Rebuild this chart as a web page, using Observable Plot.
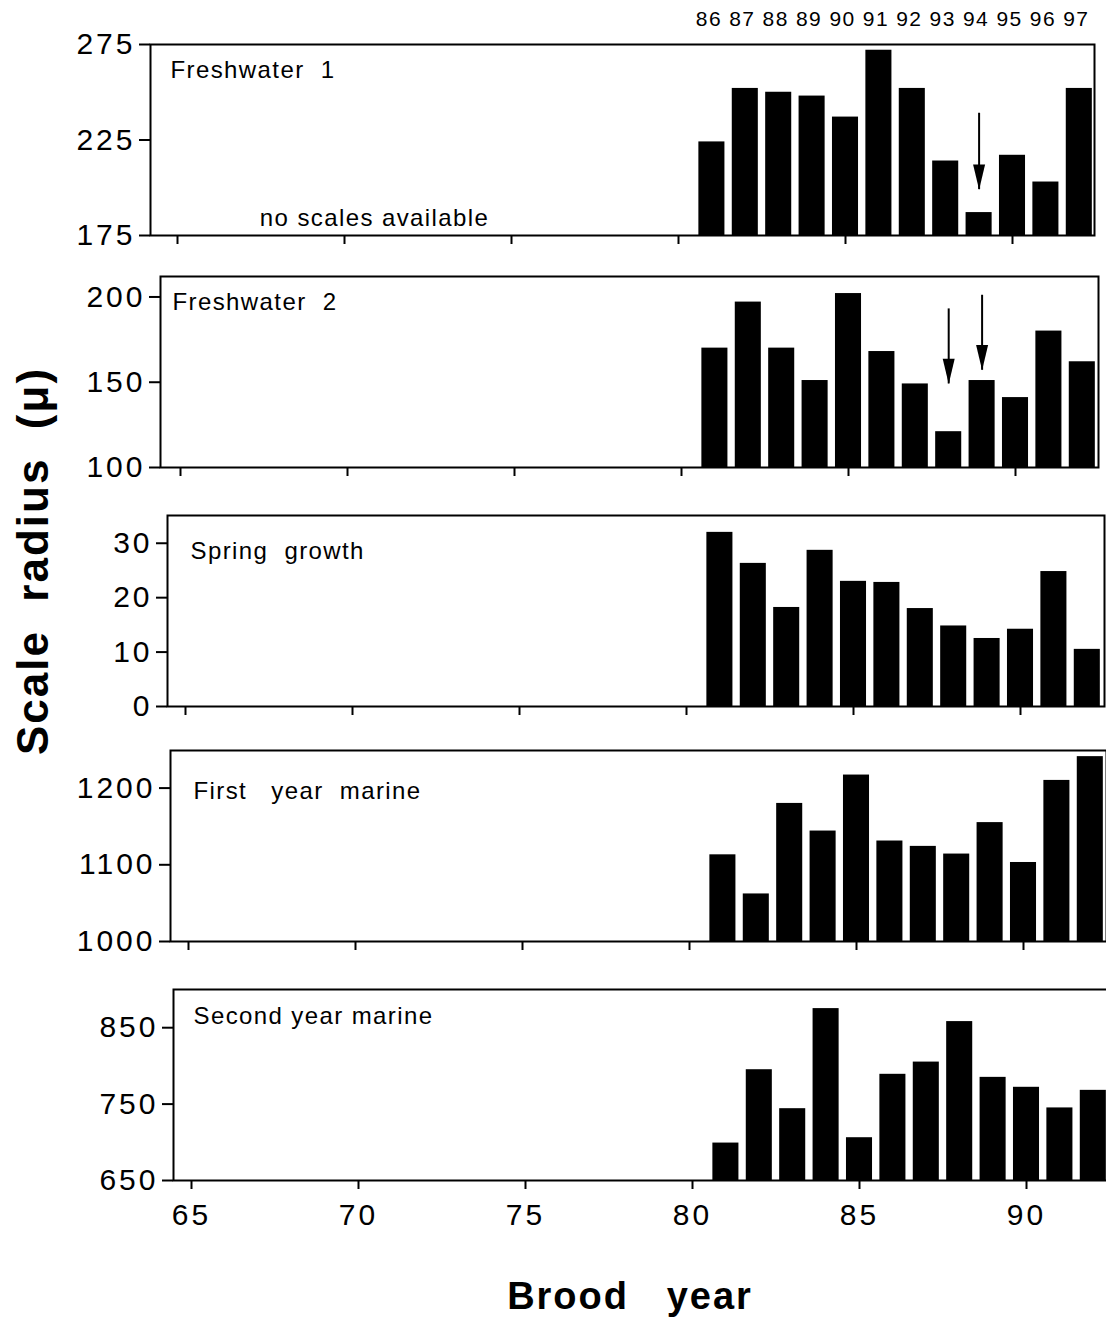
<!DOCTYPE html>
<html>
<head>
<meta charset="utf-8">
<script src="https://cdn.jsdelivr.net/npm/d3@7"></script>
<script src="https://cdn.jsdelivr.net/npm/@observablehq/plot@0.6"></script>
<style>
  body { margin: 0; background: #fff; }
  #chart { position: relative; width: 1106px; height: 1319px; overflow: hidden; font-family: "Liberation Sans", Arial, sans-serif; }
  #chart svg { position: absolute; left: 0; overflow: visible; }
  g[aria-label="y-axis tick label"], g[aria-label="x-axis tick label"] { letter-spacing: 3px; }
  g[aria-label="text"] { letter-spacing: 1.4px; }
  .ylab { position: absolute; font-weight: bold; font-size: 44px; letter-spacing: 2px; white-space: pre; width: 500px; text-align: center; line-height: 50px; transform: rotate(-90deg); transform-origin: 250px 25px; }
  .xlab { position: absolute; font-weight: bold; font-size: 38px; letter-spacing: 2px; white-space: pre; width: 400px; text-align: center; line-height: 44px; }
</style>
</head>
<body>
<div id="chart"></div>
<script>
// ---- data ----
const years = [81, 82, 83, 84, 85, 86, 87, 88, 89, 90, 91, 92];
const returnYears = ["86", "87", "88", "89", "90", "91", "92", "93", "94", "95", "96", "97"];
const xTicks = [65, 70, 75, 80, 85, 90];

const freshwater1 = [224, 252, 250, 248, 237, 272, 252, 214, 187, 217, 203, 252];
const freshwater2 = [170, 197, 170, 151, 202, 168, 149, 121, 151, 141, 180, 162];
const springGrowth = [32, 26.3, 18.2, 28.7, 23, 22.8, 18, 14.8, 12.5, 14.2, 24.8, 10.5];
const firstYearMarine = [1113, 1062, 1180, 1144, 1217, 1131, 1124, 1114, 1155, 1103, 1210, 1241];
const secondYearMarine = [699, 795, 744, 875, 706, 789, 805, 858, 785, 772, 745, 768];

const fw1Ticks = [175, 225, 275];
const fw2Ticks = [100, 150, 200];
const springTicks = [0, 10, 20, 30];
const firstTicks = [1000, 1100, 1200];
const secondTicks = [650, 750, 850];

// arrows (year, start value, tip value)
const fw1Arrows = [{year: 89, from: 239, to: 199}];
const fw2Arrows = [{year: 88, from: 193, to: 149}, {year: 89, from: 201, to: 157}];

// ---- layout ----
const W = 1106;
const panels = [
  {title: "Freshwater  1", values: freshwater1, ticks: fw1Ticks, ydom: [175, 275], left: 150, right: 1094, top: 44, bottom: 235, x65: 177, tdx: 20, tdy: 26, arrows: fw1Arrows, first: true},
  {title: "Freshwater  2", values: freshwater2, ticks: fw2Ticks, ydom: [100, 212], left: 160, right: 1098, top: 276, bottom: 467, x65: 180, tdx: 12, tdy: 26, arrows: fw2Arrows},
  {title: "Spring  growth", values: springGrowth, ticks: springTicks, ydom: [0, 35.1], left: 167, right: 1104, top: 515, bottom: 706, x65: 185, tdx: 23, tdy: 36},
  {title: "First   year  marine", values: firstYearMarine, ticks: firstTicks, ydom: [1000, 1249], left: 170, right: 1106, top: 750, bottom: 941, x65: 188, tdx: 23, tdy: 41},
  {title: "Second year marine", values: secondYearMarine, ticks: secondTicks, ydom: [650, 900], left: 173, right: 1110, top: 989, bottom: 1180, x65: 191, tdx: 20, tdy: 27, last: true}
];
const ppy = 33.4;

const arrowHead = {
  draw(context, size) {
    const r = Math.sqrt(size / Math.PI);
    const w = r, L = 4.2 * r;
    context.moveTo(0, 0);
    context.lineTo(-w, -L);
    context.lineTo(w, -L);
    context.closePath();
  }
};

const chart = document.getElementById("chart");

for (const p of panels) {
  const mt = 40, mb = p.last ? 70 : 40;
  const data = years.map((y, i) => ({year: y, value: p.values[i], ret: returnYears[i]}));
  const ymin = p.ydom[0];
  const marks = [
    Plot.rect(data, {x1: d => d.year - 0.39, x2: d => d.year + 0.39, y1: ymin, y2: "value", fill: "black"}),
    Plot.frame({stroke: "black", strokeWidth: 2}),
    Plot.axisY({ticks: p.ticks, tickSize: 11, tickPadding: 4, strokeWidth: 2, fontSize: 30, label: null, tickFormat: d => String(d)}),
    Plot.axisX({ticks: xTicks, tickSize: 9, tickPadding: 14, strokeWidth: 2, fontSize: 30, label: null,
      tickFormat: p.last ? (d => String(d)) : (() => "")}),
    Plot.text([p.title], {frameAnchor: "top-left", dx: p.tdx, dy: p.tdy, textAnchor: "start", lineAnchor: "middle", fontSize: 24, fill: "black"})
  ];
  if (p.first) {
    marks.push(Plot.text(data, {x: "year", y: p.ydom[1], text: "ret", dy: -25, dx: -3, fontSize: 21, fill: "black"}));
    marks.push(Plot.text(["no scales available"], {x: 70.9, y: 184, fontSize: 24, fill: "black"}));
  }
  if (p.arrows) {
    marks.push(Plot.ruleX(p.arrows, {x: "year", y1: "from", y2: "to", stroke: "black", strokeWidth: 2}));
    marks.push(Plot.dot(p.arrows, {x: "year", y: "to", r: 6, symbol: arrowHead, fill: "black", stroke: "none"}));
  }
  const svg = Plot.plot({
    width: W,
    height: mt + (p.bottom - p.top) + mb,
    marginLeft: p.left,
    marginRight: W - p.right,
    marginTop: mt,
    marginBottom: mb,
    x: {domain: [65 + (p.left - p.x65) / ppy, 65 + (p.right - p.x65) / ppy], label: null},
    y: {domain: p.ydom, label: null},
    style: {background: "none", fontFamily: "'Liberation Sans', Arial, sans-serif", color: "black", overflow: "visible"},
    marks
  });
  svg.style.top = (p.top - mt) + "px";
  chart.appendChild(svg);
}

const ylab = document.createElement("div");
ylab.className = "ylab";
ylab.textContent = "Scale  radius  (\u03bc)";
ylab.style.left = (33 - 250) + "px";
ylab.style.top = (561 - 25) + "px";
chart.appendChild(ylab);

const xlab = document.createElement("div");
xlab.className = "xlab";
xlab.textContent = "Brood   year";
xlab.style.left = (630 - 200) + "px";
xlab.style.top = (1296 - 22) + "px";
chart.appendChild(xlab);
</script>
</body>
</html>
